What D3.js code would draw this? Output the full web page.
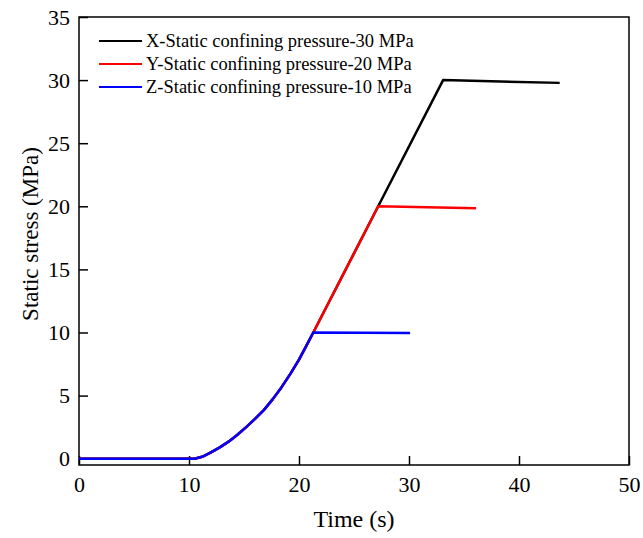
<!DOCTYPE html>
<html>
<head>
<meta charset="utf-8">
<script src="https://cdn.jsdelivr.net/npm/d3@7/dist/d3.min.js"></script>
<style>
  body { margin: 0; background: #fff; }
  svg { display: block; font-family: "Liberation Serif", "Times New Roman", serif; }
</style>
</head>
<body>
<svg id="chart"></svg>
<script>
// values (time in s, stress in MPa)
const rampTime   = [0, 10.5, 11.2, 12, 12.8, 13.6, 14.4, 15.2, 16, 16.8, 17.6, 18.4, 19.2, 20, 20.7, 21.3];
const rampStress = [0, 0, 0.15, 0.5, 0.9, 1.35, 1.9, 2.5, 3.15, 3.85, 4.7, 5.65, 6.7, 7.85, 9.0, 10];

const zTime   = [...rampTime, 30.1];
const zStress = [...rampStress, 9.95];

const yTime   = [...rampTime, 27.2, 36.1];
const yStress = [...rampStress, 20, 19.85];

const xTime   = [...rampTime, 27.2, 33.1, 43.7];
const xStress = [...rampStress, 20, 30, 29.78];

const seriesNames  = ["X-Static confining pressure-30 MPa", "Y-Static confining pressure-20 MPa", "Z-Static confining pressure-10 MPa"];
const seriesColors = ["#000000", "#ff0000", "#0000ff"];
const seriesTime   = [xTime, yTime, zTime];
const seriesStress = [xStress, yStress, zStress];

const xTicks = [0, 10, 20, 30, 40, 50];
const yTicks = [0, 5, 10, 15, 20, 25, 30, 35];

const width = 643, height = 538;
const margin = {top: 17, right: 14, bottom: 73, left: 79};
const serif = "'Liberation Serif', 'Times New Roman', serif";

const svg = d3.select("#chart").attr("width", width).attr("height", height);

const x = d3.scaleLinear().domain([0, 50]).range([margin.left, width - margin.right]);
const y = d3.scaleLinear().domain([-0.5, 35]).range([height - margin.bottom, margin.top]);

// minor ticks (inward)
const xMinor = d3.range(5, 50, 10);
const yMinor = d3.range(2.5, 35, 5);

const gx = svg.append("g").attr("transform", `translate(0,${y.range()[0]})`);
gx.call(d3.axisBottom(x).tickValues(xMinor).tickSize(-5).tickFormat(""));
gx.call(d3.axisBottom(x).tickValues(xTicks).tickSize(-9).tickPadding(11).tickFormat(d3.format("d")));

const gy = svg.append("g").attr("transform", `translate(${x.range()[0]},0)`);
gy.call(d3.axisLeft(y).tickValues(yMinor).tickSize(-5).tickFormat(""));
gy.call(d3.axisLeft(y).tickValues(yTicks).tickSize(-9).tickPadding(9).tickFormat(d3.format("d")));

gx.attr("font-family", serif).attr("font-size", 22);
gy.attr("font-family", serif).attr("font-size", 22);
svg.selectAll(".domain").remove();
svg.selectAll(".tick line").attr("stroke", "#000").attr("stroke-width", 1.5);
svg.selectAll(".tick text").attr("fill", "#000");

// frame
svg.append("rect")
  .attr("x", x.range()[0]).attr("y", y.range()[1])
  .attr("width", x.range()[1] - x.range()[0])
  .attr("height", y.range()[0] - y.range()[1])
  .attr("fill", "none").attr("stroke", "#000").attr("stroke-width", 1.5);

// lines, blue on top
const line = d3.line().x(d => x(d[0])).y(d => y(d[1]));
seriesNames.forEach((name, i) => {
  const pts = seriesTime[i].map((t, j) => [t, seriesStress[i][j]]);
  svg.append("path")
    .attr("d", line(pts))
    .attr("fill", "none")
    .attr("stroke", seriesColors[i])
    .attr("stroke-width", 2.5)
    .attr("stroke-linejoin", "round");
});

// legend
const legend = svg.append("g");
seriesNames.forEach((name, i) => {
  const ly = 41 + i * 23;
  legend.append("line")
    .attr("x1", 99).attr("x2", 142).attr("y1", ly).attr("y2", ly)
    .attr("stroke", seriesColors[i]).attr("stroke-width", 2);
  legend.append("text")
    .attr("x", 146).attr("y", ly).attr("dy", "0.33em")
    .attr("font-size", 18.5).text(name);
});

// axis titles
svg.append("text")
  .attr("x", (x.range()[0] + x.range()[1]) / 2).attr("y", 527)
  .attr("text-anchor", "middle").attr("font-size", 24).text("Time (s)");

svg.append("text")
  .attr("transform", `translate(38,234) rotate(-90)`)
  .attr("text-anchor", "middle").attr("font-size", 23).text("Static stress (MPa)");
</script>
</body>
</html>
